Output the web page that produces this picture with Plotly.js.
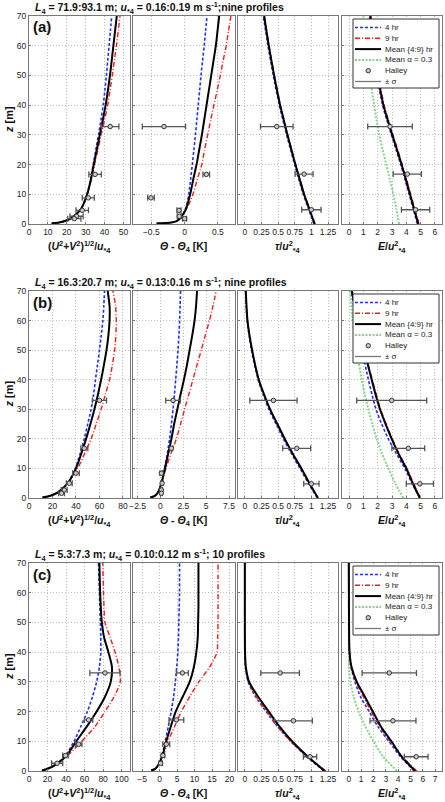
<!DOCTYPE html>
<html><head><meta charset="utf-8">
<script src="https://cdn.plot.ly/plotly-3.0.1.min.js"></script>
<style>html,body{margin:0;padding:0;background:#fff}#chart{width:445px;height:802px}</style>
</head><body><div id="chart"></div>
<script>
// ---------------- DATA ----------------
const zProfile = [0.2,0.5,1,2,5,10,15,20,25,30,35,40,45,50,55,60,65,70];
const zFlux = [0,5,10,15,20,25,30,35,40,50,60,70];

// Panel (a)
const aWind4    = [12,16,19,22.5,27.5,30.7,32.6,34.0,35.4,36.8,38.1,39.3,40.2,41.0,41.7,42.4,43.1,43.8];
const aWind9    = [12,16,19,22.5,27.5,30.9,33.0,34.7,36.5,38.2,40.0,41.7,42.9,44.1,45.2,46.3,47.3,48.2];
const aWindMean = [12,16,19,22.5,27.5,30.8,32.8,34.3,35.9,37.5,39.1,40.6,41.8,42.9,43.8,44.7,45.6,46.5];
const aTheta4    = [-0.42,-0.2,-0.12,-0.065,0.015,0.063,0.09,0.116,0.14,0.163,0.184,0.205,0.226,0.247,0.27,0.295,0.316,0.337];
const aTheta9    = [-0.42,-0.2,-0.12,-0.065,0.03,0.126,0.19,0.258,0.30,0.347,0.393,0.44,0.49,0.537,0.58,0.626,0.66,0.695];
const aThetaMean = [-0.42,-0.2,-0.12,-0.065,0.02,0.084,0.13,0.18,0.22,0.26,0.295,0.33,0.365,0.40,0.435,0.47,0.495,0.52];
const aTau4    = [1.038,0.958,0.878,0.813,0.748,0.688,0.628,0.573,0.518,0.428,0.348,0.278];
const aTau9    = [1.055,0.975,0.895,0.83,0.765,0.705,0.645,0.59,0.535,0.445,0.365,0.295];
const aTauMean = [1.05,0.97,0.89,0.825,0.76,0.70,0.64,0.585,0.53,0.44,0.36,0.29];
const aE4     = [4.78,4.49,4.2,3.91,3.61,3.29,2.96,2.64,2.34,1.94,1.66,1.42];
const aE9     = [4.89,4.6,4.31,4.02,3.72,3.4,3.07,2.75,2.45,2.05,1.77,1.53];
const aEMean  = [4.84,4.55,4.26,3.97,3.67,3.35,3.02,2.7,2.4,2.0,1.72,1.48];
const aEAlpha = [3.5,3.3,3.1,2.85,2.6,2.35,2.1,1.92,1.75,1.45,1.2,1.0];
const aHalleyZ = [32.8,16.7,8.8,4.6,2.6,1.8];
const aHalleyWind = [43,35,31.4,28.2,25.2,24];
const aHalleyWindSd = [4.6,3.3,3.2,3.3,3.5,3.5];
const aHalleyTheta = [-0.31,0.326,-0.505,-0.084,-0.08,0.0];
const aHalleyThetaSd = [0.325,0.05,0.05,0.03,0.03,0.03];
const aHalleyFluxZ = [32.8,16.8,4.8];
const aHalleyTau = [0.48,0.89,1.0];
const aHalleyTauSd = [0.245,0.135,0.145];
const aHalleyE = [2.86,4.07,4.65];
const aHalleyESd = [1.56,0.99,0.99];

// Panel (b)
const bWind4    = [11.5,16,20,25,33,39.4,43.5,47,50,52.9,55,56.6,58.3,60,61.5,62.9,63.7,64.3];
const bWind9    = [11.5,16,20,25,33,41.4,47.3,52.9,57.2,61.4,65,68.6,71,72.9,74,74.3,73.7,71.4];
const bWindMean = [11.5,16,20,25,33,40,44.5,48.6,52.3,55.7,58.7,61.4,63.8,66,67.6,68.6,68.6,67];
const bTheta4    = [-1.1,-0.75,-0.5,-0.25,0.1,0.45,0.75,1.0,1.2,1.38,1.53,1.67,1.8,1.92,2.02,2.1,2.15,2.2];
const bTheta9    = [-1.1,-0.75,-0.5,-0.25,0.1,0.6,1.15,1.74,2.2,2.64,3.1,3.55,4.0,4.46,4.9,5.36,5.75,6.1];
const bThetaMean = [-1.1,-0.75,-0.5,-0.25,0.1,0.5,0.85,1.2,1.5,1.85,2.2,2.57,2.9,3.19,3.48,3.73,3.9,4.0];
const bTau4    = [1.09,0.955,0.83,0.70,0.58,0.47,0.36,0.275,0.2,0.1,0.035,0.012];
const bTau9    = [1.1,0.965,0.845,0.715,0.595,0.485,0.375,0.285,0.21,0.105,0.04,0.015];
const bTauMean = [1.1,0.97,0.85,0.72,0.6,0.49,0.38,0.29,0.21,0.11,0.04,0.015];
const bE4     = [4.95,4.4,3.9,3.3,2.74,2.28,1.88,1.6,1.35,0.9,0.5,0.15];
const bE9     = [5.0,4.5,4.05,3.5,3.02,2.6,2.2,1.9,1.62,1.1,0.65,0.22];
const bEMean  = [4.95,4.45,4.0,3.45,2.98,2.55,2.16,1.85,1.58,1.05,0.6,0.19];
const bEAlpha = [3.79,3.22,2.74,2.3,1.93,1.62,1.35,1.1,0.88,0.53,0.25,0.07];
const bHalleyZ = [33,16.8,8.4,5.0,2.7,1.6];
const bHalleyWind = [60,47.1,40,34.3,30,27.7];
const bHalleyWindSd = [6,3,2.8,2.5,2.5,2.5];
const bHalleyTheta = [1.38,1.2,0.1,0.18,0.1,0.1];
const bHalleyThetaSd = [0.8,0.15,0.15,0.12,0.12,0.12];
const bHalleyFluxZ = [33,16.8,4.8];
const bHalleyTau = [0.43,0.78,1.0];
const bHalleyTauSd = [0.355,0.21,0.115];
const bHalleyE = [2.98,4.14,4.95];
const bHalleyESd = [2.45,1.15,0.95];

// Panel (c)
const cWind4    = [14,18,22,28,39,48.5,56,63,68.5,73,76,77.5,77.5,77,76.5,76,75.5,75];
const cWind9    = [14,18,22,28.5,41,57,71.4,82,91.8,98.5,97,92.9,87.5,82,81,80.4,80,79.6];
const cWindMean = [14,18,22,28,40,51,62.5,73,82,88.2,89.5,85.7,81,78.6,77.5,76.8,76.3,76];
const cTheta4    = [-2.4,-1.6,-1.0,-0.4,0.7,1.6,2.5,3.3,4.0,4.5,4.9,5.2,5.4,5.5,5.6,5.7,5.7,5.7];
const cTheta9    = [-2.4,-1.6,-1.0,-0.4,1.0,2.4,4.3,6.2,8.6,11.2,14.3,16.4,16.6,16.7,16.7,16.7,16.7,16.7];
const cThetaMean = [-2.4,-1.6,-1.0,-0.4,0.76,1.9,3.2,4.6,6.6,8.6,9.8,10.5,10.9,11,11.1,11.1,11.1,11.1];
const cTau4    = [1.19,0.92,0.69,0.49,0.32,0.16,0.05,0.01,0.002,0,0,0];
const cTau9    = [1.22,0.93,0.69,0.49,0.33,0.17,0.055,0.012,0.002,0,0,0];
const cTauMean = [1.2,0.94,0.71,0.52,0.36,0.2,0.064,0.015,0.003,0,0,0];
const cE4     = [5.3,4.15,3.25,2.35,1.65,0.95,0.5,0.18,0.05,0.02,0.01,0];
const cE9     = [5.5,4.3,3.35,2.5,1.82,1.18,0.58,0.2,0.06,0.02,0.01,0];
const cEMean  = [5.38,4.25,3.45,2.6,1.95,1.3,0.65,0.22,0.06,0.02,0.01,0];
const cEAlpha = [3.9,2.75,2.0,1.34,0.8,0.4,0.13,0.02,0,0,0,0];
const cHalleyZ = [33,17.2,9.0,5.2,2.6];
const cHalleyWind = [82,64.3,53.6,39.3,30.4];
const cHalleyWindSd = [16.3,4.5,3.5,3,6];
const cHalleyTheta = [6.5,4.8,1.9,0.95,0.3];
const cHalleyThetaSd = [1.7,2.1,1.0,0.5,0.5];
const cHalleyFluxZ = [33,16.9,4.8];
const cHalleyTau = [0.53,0.73,0.98];
const cHalleyTauSd = [0.29,0.285,0.1];
const cHalleyE = [3.28,3.58,5.46];
const cHalleyESd = [2.2,1.86,0.96];

const panelLabels = ['(a)','(b)','(c)'];
const panelTitles = [
  '<b><i>L</i><sub>4</sub> = 71.9:93.1 m; <i>u</i><sub>*4</sub> = 0.16:0.19 m s<sup>-1</sup>;nine profiles</b>',
  '<b><i>L</i><sub>4</sub> = 16.3:20.7 m; <i>u</i><sub>*4</sub> = 0.13:0.16 m s<sup>-1</sup>; nine profiles</b>',
  '<b><i>L</i><sub>4</sub> = 5.3:7.3 m; <i>u</i><sub>*4</sub> = 0.10:0.12 m s<sup>-1</sup>; 10 profiles</b>'
];
const xTitles = [
  '<b>(<i>U</i><sup>2</sup>+<i>V</i><sup>2</sup>)<sup>1/2</sup>/<i>u</i><sub>*4</sub></b>',
  '<b><i>Θ</i> - <i>Θ</i><sub>4</sub> [K]</b>',
  '<b><i>τ</i>/<i>u</i><sup>2</sup><sub>*4</sub></b>',
  '<b><i>E</i>/<i>u</i><sup>2</sup><sub>*4</sub></b>'
];
const legendLabels = ['4 hr','9 hr','Mean {4:9} hr','Mean α = 0.3','Halley','± σ'];

// ---------------- LAYOUT GEOMETRY ----------------
const W = 445, H = 802;
const colPx = [[29,130],[133,234.5],[237.5,338],[342,442]];
const rowPx = [[16,224],[291,498],[563,771]];
const xRanges = [
  [[0,53.5],[-0.775,0.75],[-0.11,1.4],[-0.5,6.5]],
  [[0,86],[-3,8.1],[-0.11,1.4],[-0.5,6.5]],
  [[0,109],[-7.6,21.4],[-0.11,1.4],[-0.55,7.55]]
];
const xTicks = [
  [[0,10,20,30,40,50],[-0.5,0,0.5],[0,0.25,0.5,0.75,1,1.25],[0,1,2,3,4,5,6]],
  [[0,20,40,60,80],[-2.5,0,2.5,5,7.5],[0,0.25,0.5,0.75,1,1.25],[0,1,2,3,4,5,6]],
  [[0,20,40,60,80,100],[-5,0,5,10,15,20],[0,0.25,0.5,0.75,1,1.25],[0,1,2,3,4,5,6,7]]
];
const px = v => v / W;
const py = v => 1 - v / H;

const FONT = 'Liberation Sans, Arial, sans-serif';
const C4 = '#1f2fff', C9 = '#ff1a1a', CM = '#000000', CA = '#86d586', CH = '#555555';
const lineStyles = {
  h4:   {color:C4, width:1.6, dash:'3px,2px'},
  h9:   {color:C9, width:1.4, dash:'5px,2px,1px,2px'},
  mean: {color:CM, width:2},
  alpha:{color:CA, width:2, dash:'2px,1.5px'}
};

const panels = [
  {wind:[aWind4,aWind9,aWindMean], theta:[aTheta4,aTheta9,aThetaMean], tau:[aTau4,aTau9,aTauMean], e:[aE4,aE9,aEMean,aEAlpha],
   hz:aHalleyZ, hw:aHalleyWind, hws:aHalleyWindSd, ht:aHalleyTheta, hts:aHalleyThetaSd, hfz:aHalleyFluxZ, htau:aHalleyTau, htaus:aHalleyTauSd, he:aHalleyE, hes:aHalleyESd},
  {wind:[bWind4,bWind9,bWindMean], theta:[bTheta4,bTheta9,bThetaMean], tau:[bTau4,bTau9,bTauMean], e:[bE4,bE9,bEMean,bEAlpha],
   hz:bHalleyZ, hw:bHalleyWind, hws:bHalleyWindSd, ht:bHalleyTheta, hts:bHalleyThetaSd, hfz:bHalleyFluxZ, htau:bHalleyTau, htaus:bHalleyTauSd, he:bHalleyE, hes:bHalleyESd},
  {wind:[cWind4,cWind9,cWindMean], theta:[cTheta4,cTheta9,cThetaMean], tau:[cTau4,cTau9,cTauMean], e:[cE4,cE9,cEMean,cEAlpha],
   hz:cHalleyZ, hw:cHalleyWind, hws:cHalleyWindSd, ht:cHalleyTheta, hts:cHalleyThetaSd, hfz:cHalleyFluxZ, htau:cHalleyTau, htaus:cHalleyTauSd, he:cHalleyE, hes:cHalleyESd}
];

const traces = [];
const layout = {
  width: W, height: H, margin:{l:0,r:0,t:0,b:0},
  paper_bgcolor:'#fff', plot_bgcolor:'#fff', showlegend:false,
  font:{family:FONT, size:9, color:'#222'},
  annotations:[], shapes:[]
};

function lineTrace(k, x, z, style){
  return {type:'scatter', mode:'lines', x:x, y:z, xaxis:'x'+(k===1?'':k), yaxis:'y'+(k===1?'':k),
    line:Object.assign({shape:'spline', smoothing:0.7}, style), hoverinfo:'skip'};
}
function halleyTrace(k, x, z, sd){
  return {type:'scatter', mode:'markers', x:x, y:z, xaxis:'x'+(k===1?'':k), yaxis:'y'+(k===1?'':k),
    marker:{symbol:'circle', size:4.5, color:'#c8c8c8', line:{color:'#333', width:1}},
    error_x:{type:'data', array:sd, visible:true, color:CH, thickness:1.3, width:3}, hoverinfo:'skip'};
}

panels.forEach((P, p) => {
  for (let c = 0; c < 4; c++) {
    const k = p*4 + c + 1;
    const xa = 'xaxis' + (k===1?'':k), ya = 'yaxis' + (k===1?'':k);
    layout[xa] = {
      domain:[px(colPx[c][0]), px(colPx[c][1])], anchor:'y'+(k===1?'':k),
      range:xRanges[p][c], tickmode:'array', tickvals:xTicks[p][c], tickangle:0,
      showgrid:true, gridcolor:'#bdbdbd', griddash:'1px,2px', gridwidth:1, zeroline:false,
      showline:true, mirror:true, linecolor:'#777', linewidth:1,
      ticks:'inside', ticklen:2, tickcolor:'#777', tickfont:{size:8.5, color:'#222', family:FONT},
      automargin:false, fixedrange:true
    };
    layout[ya] = {
      domain:[py(rowPx[p][1]), py(rowPx[p][0])], anchor:'x'+(k===1?'':k),
      range:[0,70], tickmode:'array', tickvals:[0,10,20,30,40,50,60,70],
      showticklabels: c===0,
      showgrid:true, gridcolor:'#bdbdbd', griddash:'1px,2px', gridwidth:1, zeroline:false,
      showline:true, mirror:true, linecolor:'#777', linewidth:1,
      ticks:'inside', ticklen:2, tickcolor:'#777', tickfont:{size:8.5, color:'#222', family:FONT},
      automargin:false, fixedrange:true
    };
    layout.annotations.push({text:xTitles[c], xref:'paper', yref:'paper',
      x:px((colPx[c][0]+colPx[c][1])/2), y:py(rowPx[p][1]+23), xanchor:'center', yanchor:'middle',
      showarrow:false, font:{size:10.5, color:'#111', family:FONT}});

    if (c === 0) {
      traces.push(lineTrace(k, P.wind[0], zProfile, lineStyles.h4));
      traces.push(lineTrace(k, P.wind[1], zProfile, lineStyles.h9));
      traces.push(lineTrace(k, P.wind[2], zProfile, lineStyles.mean));
      traces.push(halleyTrace(k, P.hw, P.hz, P.hws));
    } else if (c === 1) {
      traces.push(lineTrace(k, P.theta[0], zProfile, lineStyles.h4));
      traces.push(lineTrace(k, P.theta[1], zProfile, lineStyles.h9));
      traces.push(lineTrace(k, P.theta[2], zProfile, lineStyles.mean));
      traces.push(halleyTrace(k, P.ht, P.hz, P.hts));
    } else if (c === 2) {
      traces.push(lineTrace(k, P.tau[0], zFlux, lineStyles.h4));
      traces.push(lineTrace(k, P.tau[1], zFlux, lineStyles.h9));
      traces.push(lineTrace(k, P.tau[2], zFlux, lineStyles.mean));
      traces.push(halleyTrace(k, P.htau, P.hfz, P.htaus));
    } else {
      traces.push(lineTrace(k, P.e[3], zFlux, lineStyles.alpha));
      traces.push(lineTrace(k, P.e[0], zFlux, lineStyles.h4));
      traces.push(lineTrace(k, P.e[1], zFlux, lineStyles.h9));
      traces.push(lineTrace(k, P.e[2], zFlux, lineStyles.mean));
      traces.push(halleyTrace(k, P.he, P.hfz, P.hes));
    }
  }
  const T = rowPx[p][0];
  layout.annotations.push({text:panelTitles[p], xref:'paper', yref:'paper', x:px(33), y:py(T-8),
    xanchor:'left', yanchor:'middle', showarrow:false, font:{size:10.5, color:'#111', family:FONT}});
  layout.annotations.push({text:'<b>'+panelLabels[p]+'</b>', xref:'paper', yref:'paper', x:px(31), y:py(T+11),
    xanchor:'left', yanchor:'middle', showarrow:false, font:{size:15, color:'#111', family:FONT}});
  layout.annotations.push({text:'<b><i>z</i> [m]</b>', xref:'paper', yref:'paper', x:px(9),
    y:py((rowPx[p][0]+rowPx[p][1])/2), xanchor:'center', yanchor:'middle', textangle:-90,
    showarrow:false, font:{size:11, color:'#111', family:FONT}});
  // compact legend box (MATLAB style)
  const L0 = 353, L1 = 439, top = T+3;
  layout.shapes.push({type:'rect', xref:'paper', yref:'paper', x0:px(L0), x1:px(L1), y0:py(top+69), y1:py(top),
    fillcolor:'#fff', line:{color:'#333', width:1}});
  const styles = [lineStyles.h4, lineStyles.h9, lineStyles.mean, lineStyles.alpha, null, {color:'#777', width:1.3}];
  legendLabels.forEach((lab, i) => {
    const yy = top + 8.5 + 10.8*i;
    if (i === 4) {
      layout.shapes.push({type:'circle', xref:'paper', yref:'paper', x0:px(366), x1:px(370.5), y0:py(yy+2.2), y1:py(yy-2.2),
        fillcolor:'#c8c8c8', line:{color:'#333', width:1}});
    } else {
      layout.shapes.push({type:'line', xref:'paper', yref:'paper', x0:px(355), x1:px(381), y0:py(yy), y1:py(yy),
        line:styles[i]});
    }
    layout.annotations.push({text:lab, xref:'paper', yref:'paper', x:px(383), y:py(yy), xanchor:'left', yanchor:'middle',
      showarrow:false, font:{size:8, color:'#222', family:FONT}});
  });
});

Plotly.newPlot('chart', traces, layout, {staticPlot:true, displayModeBar:false});
</script></body></html>
